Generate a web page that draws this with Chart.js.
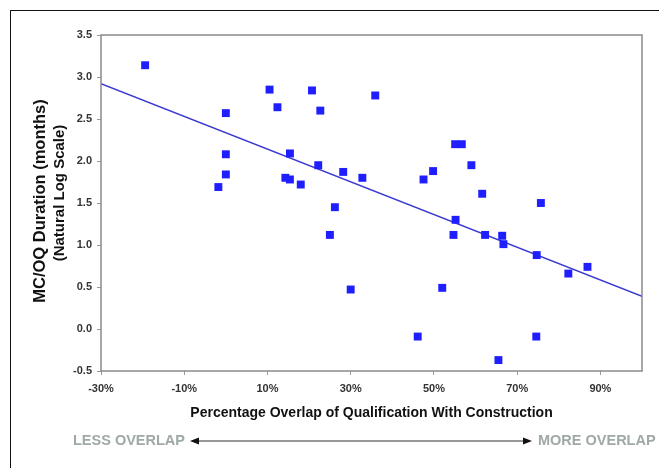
<!DOCTYPE html>
<html>
<head>
<meta charset="utf-8">
<script src="https://cdn.jsdelivr.net/npm/chart.js@4.4.0/dist/chart.umd.min.js"></script>
<style>
html, body { margin: 0; padding: 0; background: #fff; }
#wrap { position: relative; width: 659px; height: 468px; overflow: hidden; }
#frame { position: absolute; left: 10px; top: 10px; width: 720px; height: 520px; border: 1.5px solid #111; box-sizing: border-box; }
#chart { position: absolute; left: 0; top: 0; }
.ytitle { position: absolute; font-family: "Liberation Sans", Arial, sans-serif; font-weight: bold; color: #111; white-space: nowrap; transform: translate(-50%, -50%) rotate(-90deg); }
.note { position: absolute; font: bold 14.5px "Liberation Sans", Arial, sans-serif; color: #9fa9a7; white-space: nowrap; transform: translateY(-50%); }
#arrow { position: absolute; left: 180px; top: 432px; }
</style>
</head>
<body>
<div id="wrap">
  <div id="frame"></div>
  <canvas id="chart" width="659" height="468"></canvas>
  <div class="ytitle" style="left:39px; top:201px; font-size:16.5px;">MC/OQ Duration (months)</div>
  <div class="ytitle" style="left:58px; top:193px; font-size:15px;">(Natural Log Scale)</div>
  <div class="note" style="left:73px; top:440px;">LESS OVERLAP</div>
  <svg id="arrow" width="360" height="18">
    <line x1="14" y1="9" x2="348" y2="9" stroke="#333" stroke-width="1.2"/>
    <polygon points="10,9 19,5.5 19,12.5" fill="#111"/>
    <polygon points="352,9 343,5.5 343,12.5" fill="#111"/>
  </svg>
  <div class="note" style="left:538px; top:440px;">MORE OVERLAP</div>
</div>
<script>
// percentage overlap (x) and ln of MC/OQ duration (y)
var overlapPct = [-19.4, 0.0, 0.0, 0.0, -1.8, 10.5, 12.4, 15.4, 14.3, 15.4, 18.0, 20.7, 22.7, 22.2,
                  35.9, 28.2, 32.8, 55.1, 56.7, 59.0, 47.5, 49.8, 61.6, 75.7, 26.2, 55.2, 54.7, 62.3,
                  66.4, 25.0, 66.7, 74.7, 82.3, 86.9, 30.0, 52.0, 46.1, 74.6, 65.5];
var durationLn = [3.14, 2.57, 2.08, 1.84, 1.69, 2.85, 2.64, 2.09, 1.80, 1.78, 1.72, 2.84, 2.60, 1.95,
                  2.78, 1.87, 1.80, 2.20, 2.20, 1.95, 1.78, 1.88, 1.61, 1.50, 1.45, 1.30, 1.12, 1.12,
                  1.11, 1.12, 1.01, 0.88, 0.66, 0.74, 0.47, 0.49, -0.09, -0.09, -0.37];

// trend line end points
var trendX = [-30, 100];
var trendY = [2.92, 0.39];

// axis ticks
var xTicks = [-30, -10, 10, 30, 50, 70, 90];
var yTicks = [-0.5, 0.0, 0.5, 1.0, 1.5, 2.0, 2.5, 3.0, 3.5];

var points = [];
for (var i = 0; i < overlapPct.length; i++) {
    points.push({ x: overlapPct[i], y: durationLn[i] });
}
var trend = [];
for (var j = 0; j < trendX.length; j++) {
    trend.push({ x: trendX[j], y: trendY[j] });
}

// gray frame round the plot area
var plotFrame = {
    id: 'plotFrame',
    afterDraw: function(chart) {
        var a = chart.chartArea;
        var ctx = chart.ctx;
        ctx.save();
        ctx.strokeStyle = '#8a8a8a';
        ctx.lineWidth = 1.5;
        ctx.strokeRect(a.left, a.top, a.right - a.left, a.bottom - a.top);
        ctx.restore();
    }
};

var tickFont = { family: '"Liberation Sans", Arial, sans-serif', size: 11, weight: 'bold' };

new Chart(document.getElementById('chart').getContext('2d'), {
    type: 'scatter',
    data: {
        datasets: [{
            data: points,
            pointStyle: 'rect',
            pointRadius: 5.6,
            pointHoverRadius: 5.6,
            backgroundColor: '#1e1eff',
            borderColor: '#1e1eff',
            borderWidth: 0
        }, {
            type: 'line',
            data: trend,
            borderColor: '#3a3ad0',
            borderWidth: 1.5,
            pointRadius: 0,
            fill: false
        }]
    },
    options: {
        responsive: false,
        animation: false,
        layout: { padding: { top: 35, right: 17, bottom: 42, left: 0 } },
        plugins: { legend: { display: false }, tooltip: { enabled: false } },
        scales: {
            x: {
                type: 'linear',
                min: -30,
                max: 100,
                afterBuildTicks: function(scale) {
                    scale.ticks = xTicks.map(function(v) { return { value: v }; });
                },
                afterFit: function(scale) { scale.height = 55; },
                ticks: {
                    font: tickFont,
                    color: '#333',
                    padding: 7,
                    maxRotation: 0,
                    callback: function(v) { return v + '%'; }
                },
                grid: { drawOnChartArea: false, drawTicks: true, tickLength: 4, color: '#999' },
                border: { display: false },
                title: {
                    display: true,
                    text: 'Percentage Overlap of Qualification With Construction',
                    color: '#111',
                    font: { family: '"Liberation Sans", Arial, sans-serif', size: 14, weight: 'bold' },
                    padding: { top: 0, bottom: 4 }
                }
            },
            y: {
                min: -0.5,
                max: 3.5,
                afterBuildTicks: function(scale) {
                    scale.ticks = yTicks.map(function(v) { return { value: v }; });
                },
                afterFit: function(scale) { scale.width = 101; },
                ticks: {
                    font: tickFont,
                    color: '#333',
                    padding: 5,
                    callback: function(v) { return v.toFixed(1); }
                },
                grid: { drawOnChartArea: false, drawTicks: true, tickLength: 4, color: '#999' },
                border: { display: false }
            }
        }
    },
    plugins: [plotFrame]
});
</script>
</body>
</html>
